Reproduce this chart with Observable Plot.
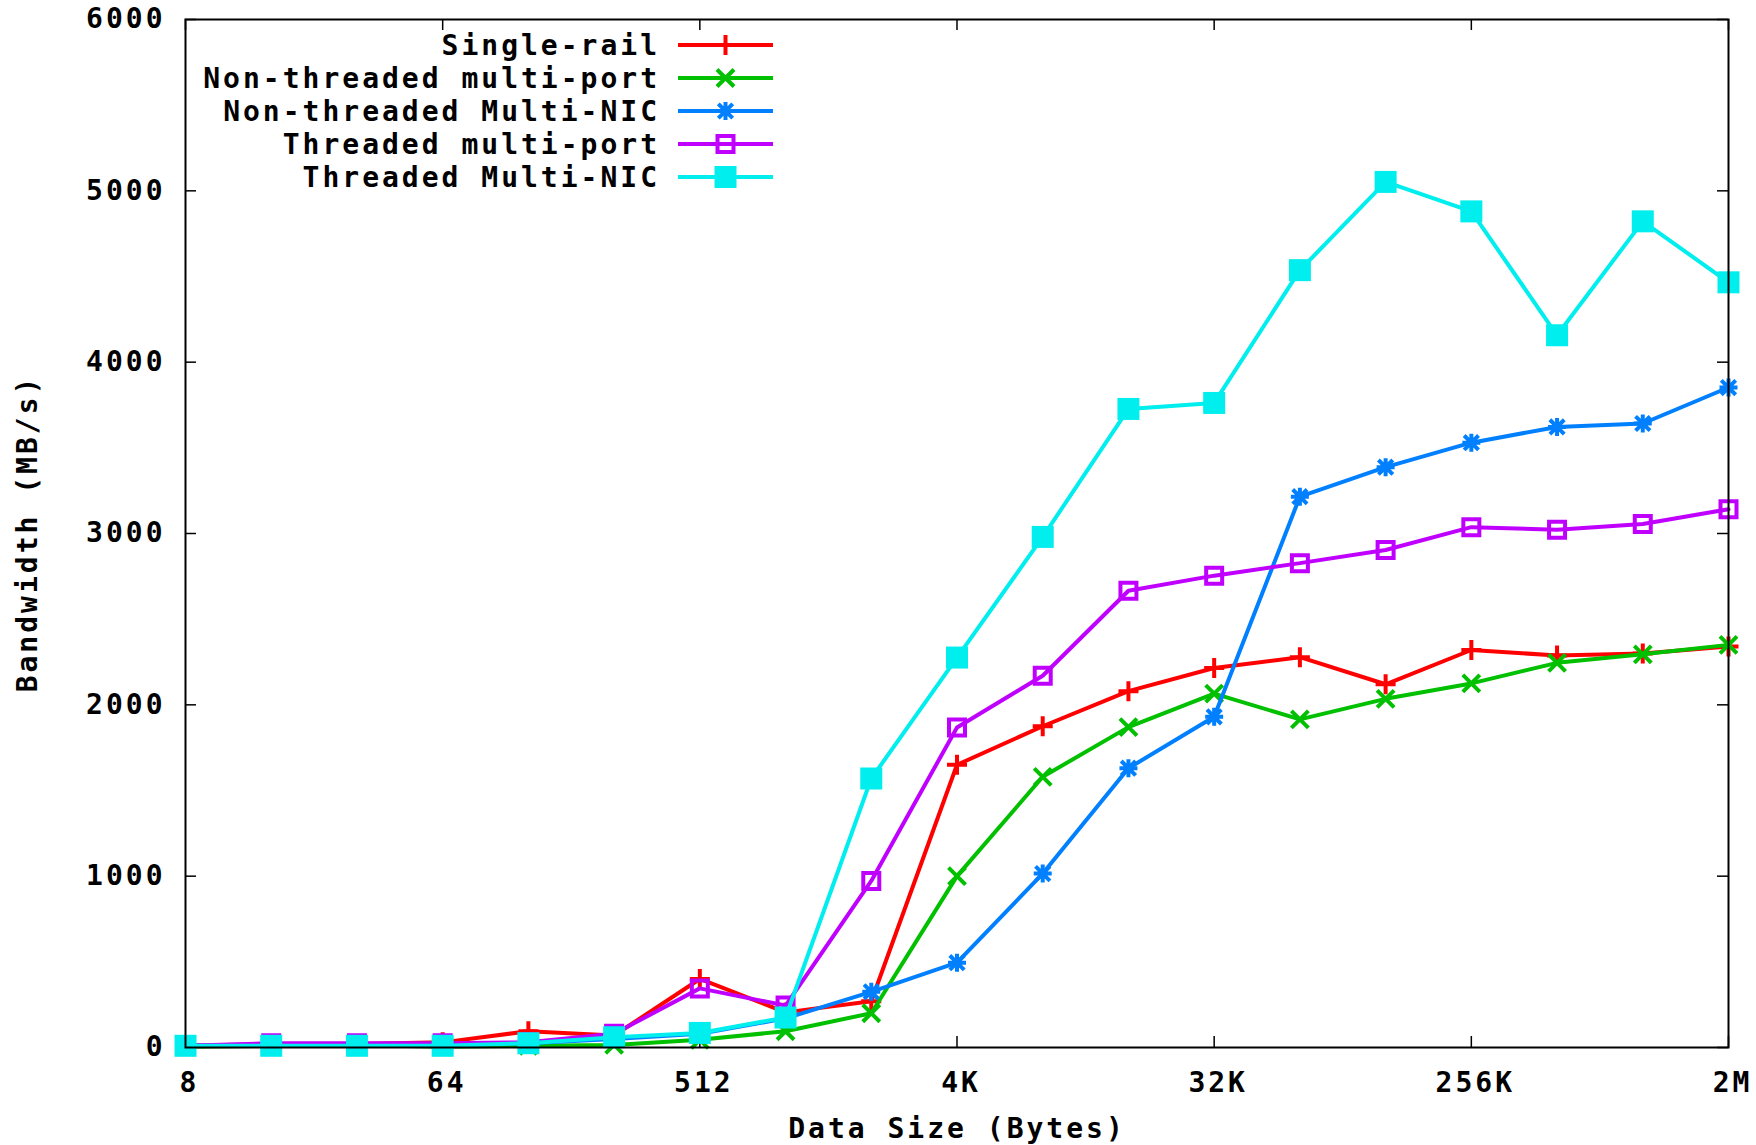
<!DOCTYPE html>
<html>
<head>
<meta charset="utf-8">
<script src="https://cdn.jsdelivr.net/npm/d3@7"></script>
<script src="https://cdn.jsdelivr.net/npm/@observablehq/plot@0.6"></script>
<style>
  html, body { margin: 0; padding: 0; background: #fff; }
  svg { display: block; }
</style>
</head>
<body>
<div id="chart"></div>
<script>
// ---------------- DATA ----------------
const dataSizes = [8, 16, 32, 64, 128, 256, 512, 1024, 2048, 4096, 8192, 16384, 32768, 65536, 131072, 262144, 524288, 1048576, 2097152];

const seriesNames = ["Single-rail", "Non-threaded multi-port", "Non-threaded Multi-NIC", "Threaded multi-port", "Threaded Multi-NIC"];

const singleRail           = [12, 18, 20, 30, 95, 70, 400, 205, 270, 1650, 1875, 2080, 2215, 2278, 2120, 2320, 2288, 2300, 2340];
const nonThreadedMultiPort = [5, 10, 15, 5, 10, 15, 45, 95, 200, 1000, 1580, 1870, 2065, 1915, 2035, 2125, 2245, 2295, 2350];
const nonThreadedMultiNIC  = [10, 15, 15, 15, 25, 50, 80, 170, 325, 495, 1015, 1630, 1930, 3215, 3387, 3530, 3622, 3642, 3852];
const threadedMultiPort    = [10, 25, 25, 25, 30, 80, 345, 245, 972, 1868, 2170, 2666, 2754, 2827, 2904, 3037, 3022, 3055, 3142];
const threadedMultiNIC     = [10, 10, 10, 10, 25, 60, 85, 175, 1570, 2276, 2980, 3727, 3762, 4537, 5052, 4880, 4157, 4822, 4466];

const xTickValues = [8, 64, 512, 4096, 32768, 262144, 2097152];
const xTickLabels = ["8", "64", "512", "4K", "32K", "256K", "2M"];
const yTickValues = [0, 1000, 2000, 3000, 4000, 5000, 6000];

const xAxisTitle = "Data Size (Bytes)";
const yAxisTitle = "Bandwidth (MB/s)";

// ---------------- STYLE ----------------
const W = 1756, H = 1145;
const mL = 185, mR = 28, mT = 19, mB = 98;
const plotW = W - mL - mR, plotH = H - mT - mB;
const tickLen = 11;
const lineW = 4;

// gnuplot-like point types
const symPlus = {draw(c, s) { const h = Math.sqrt(s) / 2; c.moveTo(-h, 0); c.lineTo(h, 0); c.moveTo(0, -h); c.lineTo(0, h); }};
const symTimes = {draw(c, s) { const h = Math.sqrt(s) / 2; c.moveTo(-h, -h); c.lineTo(h, h); c.moveTo(-h, h); c.lineTo(h, -h); }};
const symStar = {draw(c, s) { const h = Math.sqrt(s) / 2; const k = h * 0.8;
  c.moveTo(-h, 0); c.lineTo(h, 0); c.moveTo(0, -h); c.lineTo(0, h);
  c.moveTo(-k, -k); c.lineTo(k, k); c.moveTo(-k, k); c.lineTo(k, -k); }};
const symSquare = {draw(c, s) { const h = Math.sqrt(s) / 2; c.moveTo(-h, -h); c.lineTo(h, -h); c.lineTo(h, h); c.lineTo(-h, h); c.closePath(); }};

const halfToR = h => h * 2 / Math.sqrt(Math.PI);

const seriesStyles = [
  {color: "#ff0000", symbol: symPlus,   half: 10,  filled: false},
  {color: "#00c000", symbol: symTimes,  half: 8.5, filled: false},
  {color: "#0080ff", symbol: symStar,   half: 9,   filled: false},
  {color: "#c000ff", symbol: symSquare, half: 8,   filled: false},
  {color: "#00eeee", symbol: symSquare, half: 11,  filled: true}
];

const seriesValues = [singleRail, nonThreadedMultiPort, nonThreadedMultiNIC, threadedMultiPort, threadedMultiNIC];

const rows = [];
seriesNames.forEach((name, si) => {
  seriesValues[si].forEach((v, i) => rows.push({series: name, size: dataSizes[i], value: v}));
});

const seriesMarks = [];
seriesNames.forEach((name, si) => {
  const st = seriesStyles[si];
  const d = rows.filter(r => r.series === name);
  seriesMarks.push(Plot.line(d, {x: "size", y: "value", stroke: st.color, strokeWidth: lineW, strokeLinejoin: "miter"}));
  seriesMarks.push(Plot.dot(d, {
    x: "size", y: "value", symbol: st.symbol, r: halfToR(st.half),
    fill: st.filled ? st.color : "none", stroke: st.filled ? "none" : st.color, strokeWidth: lineW
  }));
});

const tickStyle = {stroke: "black", strokeWidth: 1.5};

const chart = Plot.plot({
  width: W, height: H,
  marginLeft: mL, marginRight: mR, marginTop: mT, marginBottom: mB,
  style: {
    fontFamily: "'DejaVu Sans Mono', 'Liberation Mono', monospace",
    fontWeight: "bold", fontSize: "28px", letterSpacing: "3px",
    background: "white", color: "black"
  },
  x: {type: "log", base: 2, domain: [8, 2097152], axis: null},
  y: {domain: [0, 6000], axis: null},
  marks: [
    Plot.tickY(yTickValues, {y: d => d, insetRight: plotW - tickLen, ...tickStyle}),
    Plot.tickY(yTickValues, {y: d => d, insetLeft: plotW - tickLen, ...tickStyle}),
    Plot.tickX(xTickValues, {x: d => d, insetTop: plotH - tickLen, ...tickStyle}),
    Plot.tickX(xTickValues, {x: d => d, insetBottom: plotH - tickLen, ...tickStyle}),
    Plot.text(yTickValues, {y: d => d, frameAnchor: "left", dx: -20, textAnchor: "end", lineAnchor: "middle", text: d => String(d)}),
    Plot.text(xTickValues, {x: d => d, frameAnchor: "bottom", dy: 36, dx: 4, textAnchor: "middle", lineAnchor: "middle", text: (d, i) => xTickLabels[i]}),
    Plot.text([xAxisTitle], {frameAnchor: "bottom", dy: 82, textAnchor: "middle", lineAnchor: "middle", text: d => d}),
    Plot.text([yAxisTitle], {frameAnchor: "left", dx: -157, rotate: -90, textAnchor: "middle", lineAnchor: "middle", text: d => d}),
    ...seriesMarks,
    Plot.frame({stroke: "black", strokeWidth: 2})
  ]
});

document.getElementById("chart").appendChild(chart);

// ---------------- LEGEND ----------------
const svg = d3.select(chart);
const legTextRight = 660, legX1 = 678, legX2 = 773, legY0 = 45, legDy = 33;
const leg = svg.append("g").attr("class", "legend");
seriesNames.forEach((name, i) => {
  const st = seriesStyles[i];
  const g = leg.append("g").attr("transform", `translate(0,${legY0 + i * legDy})`);
  g.append("text").attr("x", legTextRight).attr("text-anchor", "end").attr("dy", "0.36em")
    .attr("fill", "black").text(name);
  g.append("line").attr("x1", legX1).attr("x2", legX2).attr("y1", 0).attr("y2", 0)
    .attr("stroke", st.color).attr("stroke-width", lineW);
  const size = (2 * st.half) ** 2;
  g.append("path").attr("transform", `translate(${(legX1 + legX2) / 2},0)`)
    .attr("d", d3.symbol(st.symbol, size)())
    .attr("fill", st.filled ? st.color : "none")
    .attr("stroke", st.filled ? "none" : st.color)
    .attr("stroke-width", lineW);
});
</script>
</body>
</html>
